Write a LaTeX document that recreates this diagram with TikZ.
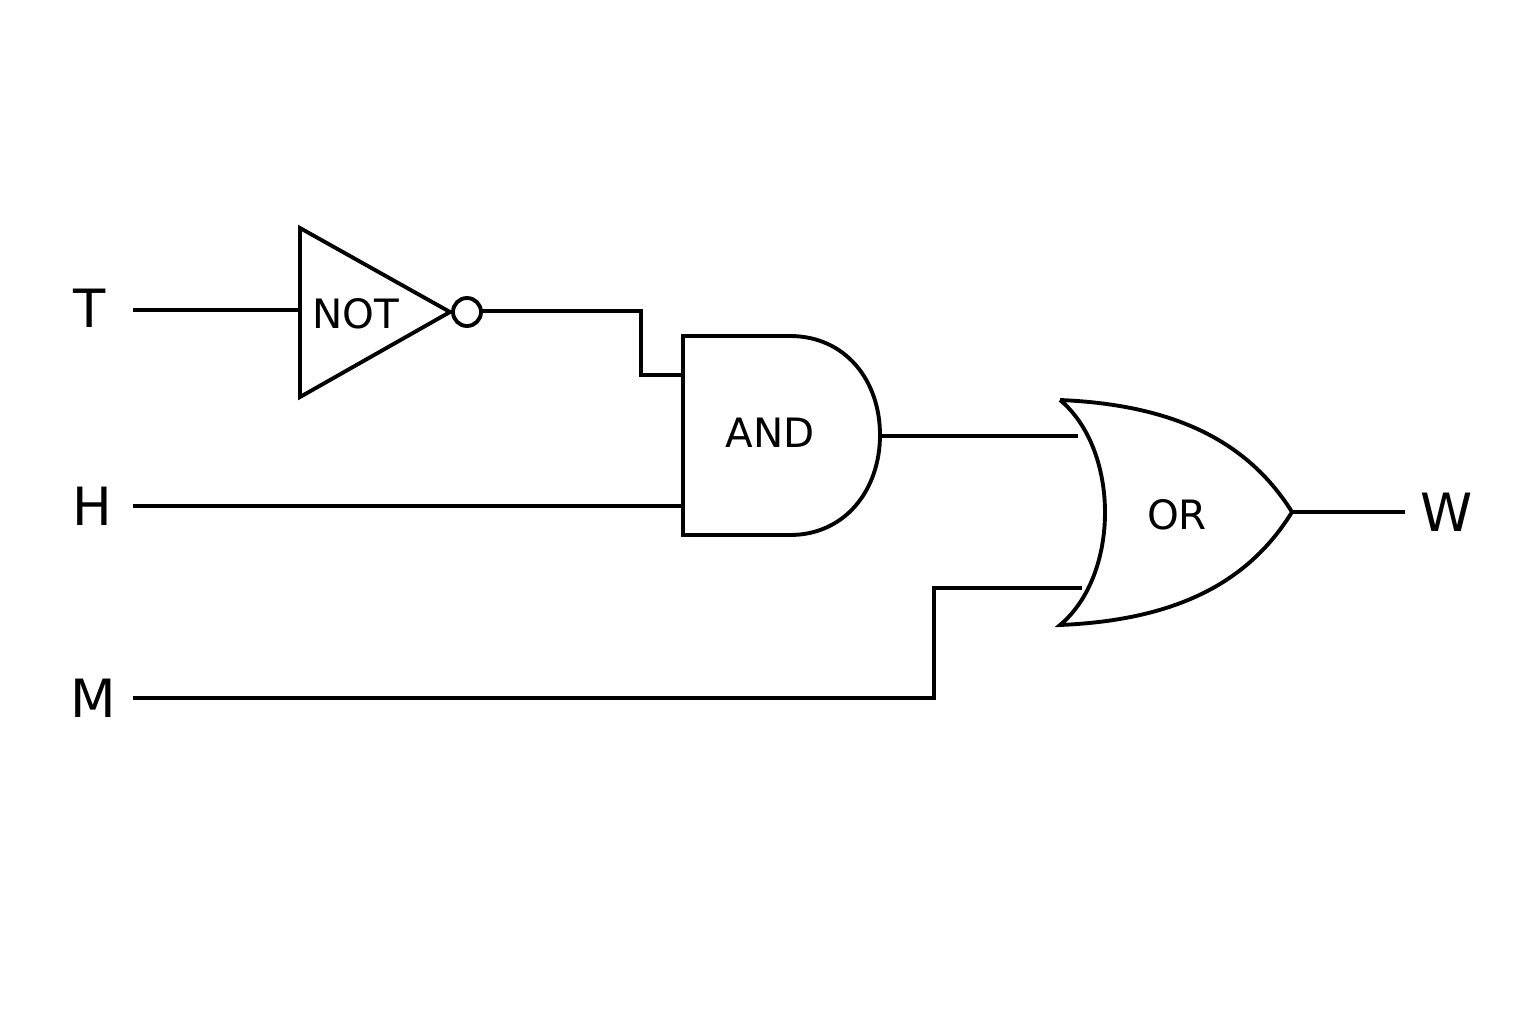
\documentclass[tikz,border=0pt]{standalone}
\usepackage{fontspec}
\setmainfont{DejaVu Sans}
\usetikzlibrary{calc,positioning}
\begin{document}
\begin{tikzpicture}[x=0.01cm,y=-0.01cm,line width=1.1pt,
    wire/.style={line join=miter},
    sig/.style={font=\fontsize{15}{15}\selectfont},
    gatetxt/.style={font=\fontsize{11.5}{11.5}\selectfont}]
  \useasboundingbox (0,0) rectangle (1536,1024);
  % inputs and output labels
  \node[sig] (t) at (90,308) {T};
  \node[sig] (h) at (92,506) {H};
  \node[sig] (m) at (93,698) {M};
  \node[sig] (w) at (1447,512) {W};
  \coordinate (tin) at (133,310);
  \coordinate (hin) at (133,506);
  \coordinate (min) at (133,698);
  \coordinate (wout) at (1405,512);
  % NOT gate
  \draw (300,228) -- (450,312) -- (300,397) -- cycle;
  \draw (467,312) circle (14);
  \node[gatetxt] (notg) at (356,314) {NOT};
  \coordinate (notin) at (300,310);
  \coordinate (notout) at (481,311);
  % AND gate
  \draw (683,336) -- (790,336) .. controls (845,336) and (880,380) .. (880,435)
        .. controls (880,490) and (845,535) .. (790,535) -- (683,535) -- cycle;
  \node[gatetxt] (andg) at (770,433) {AND};
  \coordinate (anda) at (683,375);
  \coordinate (andb) at (683,506);
  \coordinate (andout) at (880,436);
  % OR gate
  \draw (1060,400) .. controls (1120,450) and (1120,575) .. (1060,625)
        .. controls (1180,620) and (1250,580) .. (1292,512)
        .. controls (1250,445) and (1180,405) .. (1060,400);
  \node[gatetxt] (org) at (1177,515) {OR};
  \coordinate (ora) at (1078,436);
  \coordinate (orb) at (1082,588);
  \coordinate (orout) at (1292,512);
  % wires
  \draw[wire] (tin) -- (notin);
  \draw[wire] (notout) -| (641,375) -- (anda);
  \draw[wire] (hin) -- (andb);
  \draw[wire] (andout) -- (ora);
  \draw[wire] (min) -| (934,588) -- (orb);
  \draw[wire] (orout) -- (wout);
\end{tikzpicture}
\end{document}
